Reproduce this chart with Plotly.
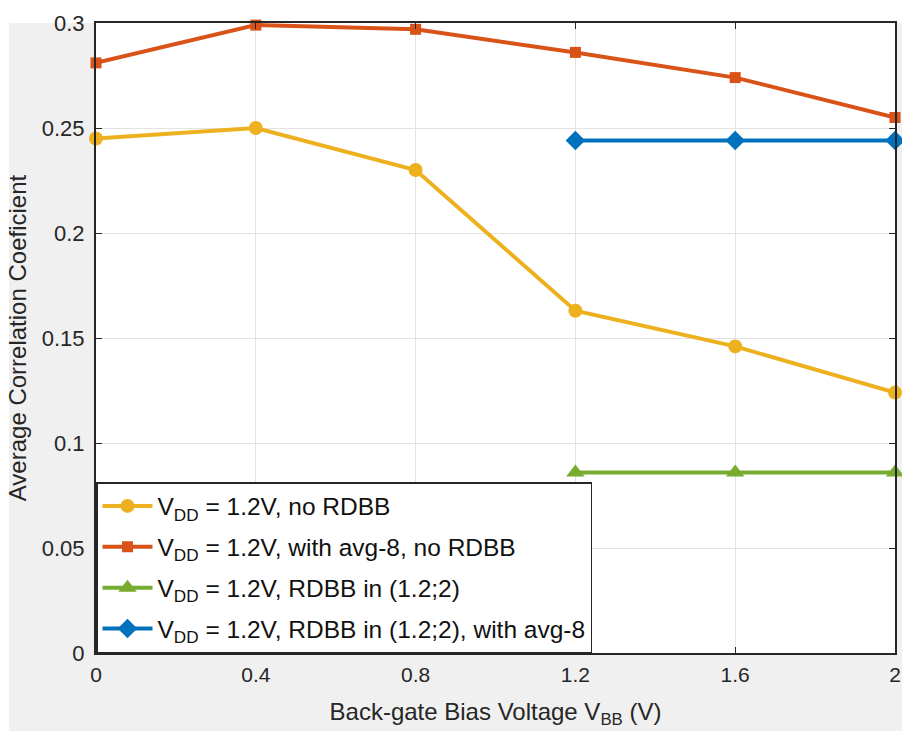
import plotly.graph_objects as go

# Back-gate bias sweep (V)
vbb = [0, 0.4, 0.8, 1.2, 1.6, 2]
vbb_rdbb = [1.2, 1.6, 2]

# Average correlation coefficient per configuration
no_rdbb = [0.245, 0.250, 0.230, 0.163, 0.146, 0.124]
avg8_no_rdbb = [0.281, 0.299, 0.297, 0.286, 0.274, 0.255]
rdbb = [0.086, 0.086, 0.086]
rdbb_avg8 = [0.244, 0.244, 0.244]

names = [
    "V<sub>DD</sub> = 1.2V, no RDBB",
    "V<sub>DD</sub> = 1.2V, with avg-8, no RDBB",
    "V<sub>DD</sub> = 1.2V, RDBB in (1.2;2)",
    "V<sub>DD</sub> = 1.2V, RDBB in (1.2;2), with avg-8",
]

x_ticks = [0, 0.4, 0.8, 1.2, 1.6, 2]
x_ticktext = ["0", "0.4", "0.8", "1.2", "1.6", "2"]
y_ticks = [0, 0.05, 0.1, 0.15, 0.2, 0.25, 0.3]
y_ticktext = ["0", "0.05", "0.1", "0.15", "0.2", "0.25", "0.3"]

FONT = "Liberation Sans, Arial, Helvetica, sans-serif"
DARK = "#262626"

series = [
    (vbb, no_rdbb, "#EDB120", "circle", 14),
    (vbb, avg8_no_rdbb, "#D95319", "square", 11),
    (vbb_rdbb, rdbb, "#77AC30", "triangle-up", 16),
    (vbb_rdbb, rdbb_avg8, "#0072BD", "diamond", 15),
]

fig = go.Figure()
for i, ((xs, ys, color, symbol, size), name) in enumerate(zip(series, names)):
    fig.add_trace(go.Scatter(
        x=xs, y=ys, name=name, mode="lines+markers",
        legendgroup=f"g{i}",
        line=dict(color=color, width=4),
        marker=dict(color=color, symbol=symbol, size=size),
        cliponaxis=False,
    ))

fig.update_layout(
    width=902, height=731,
    margin=dict(l=96, r=7, t=23, b=78),
    paper_bgcolor="#f0f0f0",
    plot_bgcolor="white",
    font=dict(family=FONT, color=DARK),
    showlegend=True,
    legend=dict(
        x=0, y=0, xanchor="left", yanchor="bottom",
        bgcolor="white", bordercolor=DARK, borderwidth=1.5,
        font=dict(size=24.5, color="#111111"),
        itemwidth=50, tracegroupgap=6, traceorder="grouped",
    ),
    shapes=[
        # thin white strips along the top and left edges of the canvas
        dict(type="rect", xref="paper", yref="paper", layer="below",
             x0=-0.125, x1=1.01, y0=1.0, y1=1.04,
             fillcolor="white", line=dict(width=0)),
        dict(type="rect", xref="paper", yref="paper", layer="below",
             x0=-0.125, x1=-0.1089, y0=-0.13, y1=1.04,
             fillcolor="white", line=dict(width=0)),
    ],
)

fig.update_xaxes(
    range=[0, 2], tickvals=x_ticks, ticktext=x_ticktext,
    automargin=False,
    showgrid=True, gridcolor="#e3e3e3", gridwidth=1,
    showline=True, linecolor=DARK, linewidth=2, mirror="ticks",
    ticks="inside", ticklen=6, tickcolor=DARK,
    tickfont=dict(size=21, color=DARK), ticklabelstandoff=2,
    zeroline=False,
    title=dict(text="Back-gate Bias Voltage V<sub>BB</sub> (V)",
               font=dict(size=24, color=DARK), standoff=18),
)
fig.update_yaxes(
    range=[0, 0.3], tickvals=y_ticks, ticktext=y_ticktext,
    automargin=False,
    showgrid=True, gridcolor="#e3e3e3", gridwidth=1,
    showline=True, linecolor=DARK, linewidth=2, mirror="ticks",
    ticks="inside", ticklen=6, tickcolor=DARK,
    tickfont=dict(size=22, color=DARK), ticklabelstandoff=5,
    zeroline=False,
    title=dict(text="Average Correlation Coeficient",
               font=dict(size=24, color=DARK), standoff=8),
)

fig.write_html("out.html")
